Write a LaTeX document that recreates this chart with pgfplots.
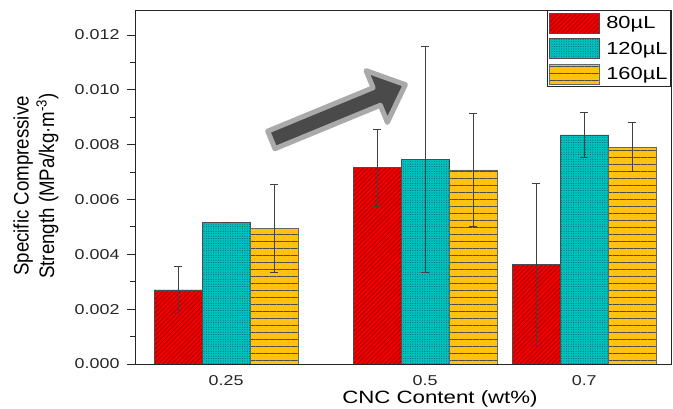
\documentclass[border=0pt]{standalone}
\usepackage{pgfplots}
\pgfplotsset{compat=1.18}
\usepackage{fontspec}
\setmainfont{Liberation Sans}[FakeStretch=1.25]
\newfontfamily\ylabfont{Liberation Sans}[FakeStretch=0.89]
\usetikzlibrary{patterns.meta}
\definecolor{barred}{RGB}{240,0,0}
\definecolor{barcyan}{RGB}{0,192,192}
\definecolor{baryel}{RGB}{255,194,16}
\definecolor{arrowdark}{RGB}{74,74,74}
\definecolor{arrowlight}{RGB}{170,170,170}
\begin{document}
\begin{tikzpicture}
\path[use as bounding box] (-135pt,-45pt) rectangle (538pt,364pt);
\begin{axis}[
  scale only axis,
  width=536pt, height=354pt,
  at={(0pt,0pt)}, anchor=south west,
  xmin=0.1356, xmax=0.809,
  ymin=0, ymax=0.01291,
  ybar=0pt, bar width=48pt,
  axis line style={line width=0.9pt, black!85},
  xtick={0.25,0.5,0.7}, xticklabels={0.25,0.5,0.7},
  xtick style={draw=none},
  ytick={0,0.002,0.004,0.006,0.008,0.010,0.012},
  minor y tick num=1,
  tick align=outside,
  ytick pos=left, xtick pos=bottom,
  major tick length=8pt, minor tick length=5pt,
  y tick style={line width=0.8pt, black!85},
  scaled y ticks=false,
  yticklabel style={/pgf/number format/.cd, fixed, fixed zerofill, precision=3, assume math mode=true, /tikz/.cd, xshift=-4pt},
  xticklabel style={/pgf/number format/assume math mode=true},
  tick label style={font=\fontsize{14.3}{16}\selectfont, text=black!85},
  xlabel={CNC Content (wt\%)},
  xlabel style={font=\fontsize{17.8}{20}\selectfont, at={(rel axis cs:0.569,0)}, anchor=center, yshift=-35pt},
  ylabel={Specific Compressive\\Strength (MPa/kg·m\textsuperscript{-3})},
  ylabel style={font=\ylabfont\fontsize{21}{25.5}\selectfont, align=center, at={(rel axis cs:-0.1847,0.503)}, anchor=center},
  error bars/y dir=both, error bars/y explicit,
  error bars/error bar style={line width=0.7pt, black!75},
  error bars/error mark options={rotate=90, mark size=4pt, line width=0.7pt, black!75},
  legend style={at={(rel axis cs:1,1)}, anchor=north east, draw=black!85, line width=0.8pt,
    font=\fontsize{17.5}{19}\selectfont, inner xsep=1pt, inner ysep=2.5pt, row sep=5pt, cells={anchor=west},
    /tikz/every odd column/.style={column sep=5pt}},
  legend image code/.code={\draw[#1] (0pt,-10pt) rectangle (50pt,10pt);},
]
\addplot[fill=barred, draw=black!70, line width=0.5pt,
  postaction={pattern={Lines[angle=45,distance=3.2pt,line width=0.5pt]}, pattern color=red!55!black}]
  coordinates {(0.25,0.0027) +- (0,0.00085) (0.5,0.00716) +- (0,0.0014) (0.7,0.003635) +- (0,0.002965)};
\addplot[fill=barcyan, draw=black!70, line width=0.5pt,
  postaction={pattern={Dots[distance=2.4pt,radius=0.45pt]}, pattern color=teal!55!black}]
  coordinates {(0.25,0.00517) +- (0,0) (0.5,0.00747) +- (0,0.00413) (0.7,0.00836) +- (0,0.00083)};
\addplot[fill=baryel, draw=black!60, line width=0.5pt,
  postaction={pattern={Lines[angle=0,distance=7pt,line width=0.8pt]}, pattern color=black!70}]
  coordinates {(0.25,0.00494) +- (0,0.0016) (0.5,0.00708) +- (0,0.00207) (0.7,0.00791) +- (0,0.0009)};
\legend{80µL,120µL,160µL}
\draw[line width=5pt, draw=arrowlight, fill=arrowdark, line join=round,
  shift={(axis cs:0.3905,0.009172)}, rotate=22.4]
  (-72pt,-9.5pt) -- (42pt,-9.5pt) -- (42pt,-28pt) -- (73pt,0pt) -- (42pt,28pt) -- (42pt,9.5pt) -- (-72pt,9.5pt) -- cycle;
\end{axis}
\end{tikzpicture}
\end{document}
